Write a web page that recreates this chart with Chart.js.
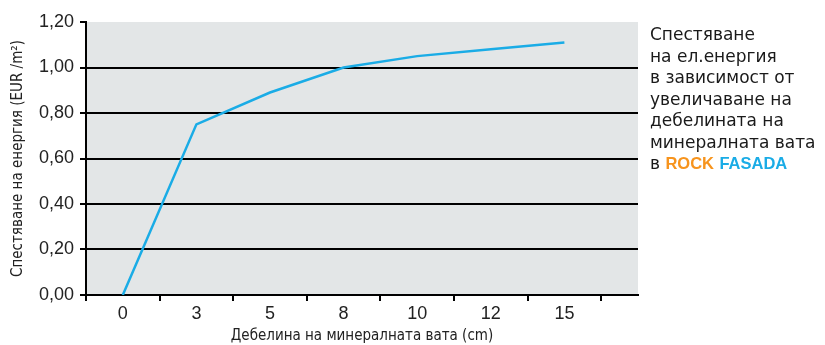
<!DOCTYPE html>
<html>
<head>
<meta charset="utf-8">
<script src="https://cdn.jsdelivr.net/npm/chart.js@4.4.0/dist/chart.umd.min.js"></script>
<style>
  html, body { margin: 0; padding: 0; background: #fff; }
  #wrap { position: relative; width: 825px; height: 345px; }
  #note {
    position: absolute; left: 650px; top: 24px;
    font-family: "DejaVu Sans", sans-serif; font-size: 17px; line-height: 21.5px;
    color: #1a1a1a; white-space: nowrap;
  }
  #note b { font-family: "Liberation Sans", Arial, sans-serif; font-size: 16.5px; }
  #note b.r { color: #f7941d; }
  #note b.f { color: #1aace6; }
</style>
</head>
<body>
<div id="wrap">
  <canvas id="myChart" width="825" height="345"></canvas>
  <div id="note">Спестяване<br>на ел.енергия<br>в зависимост от<br>увеличаване на<br>дебелината на<br>минералната вата<br>в <b class="r">ROCK</b> <b class="f">FASADA</b></div>
</div>
<script>
// thickness of mineral wool (cm) and energy saving (EUR/m2)
const thickness = ['0', '3', '5', '8', '10', '12', '15'];
const saving = [0, 0.75, 0.89, 1.00, 1.05, 1.08, 1.11];
const yTicks = [0, 0.2, 0.4, 0.6, 0.8, 1.0, 1.2];

const ctx = document.getElementById('myChart');
const narrow = '"Liberation Sans Narrow", "DejaVu Sans Condensed", sans-serif';
const plain = '"Liberation Sans", sans-serif';

// grey plot background + tick marks between the categories
const plotBits = {
  id: 'plotBits',
  beforeDraw(chart) {
    const a = chart.chartArea;
    const c = chart.ctx;
    c.save();
    c.fillStyle = '#e3e6e7';
    c.fillRect(a.left, a.top, a.right - a.left, a.bottom - a.top);
    c.restore();
  },
  afterDraw(chart) {
    const x = chart.scales.x;
    const c = chart.ctx;
    c.save();
    c.strokeStyle = '#000';
    c.lineWidth = 2;
    for (let i = 0; i <= thickness.length; i++) {
      const px = Math.round(x.getPixelForValue(i - 0.5));
      c.beginPath();
      c.moveTo(px, x.top);
      c.lineTo(px, x.top + 6);
      c.stroke();
    }
    c.restore();
  }
};

new Chart(ctx, {
  type: 'line',
  data: {
    datasets: [{
      data: saving.map((v, i) => ({ x: i, y: v })),
      borderColor: '#1aace6',
      borderWidth: 2.5,
      pointRadius: 0,
      tension: 0
    }]
  },
  plugins: [plotBits],
  options: {
    responsive: false,
    animation: false,
    layout: { padding: { left: 9, right: 187, top: 22, bottom: 0 } },
    plugins: { legend: { display: false }, tooltip: { enabled: false } },
    scales: {
      x: {
        type: 'linear',
        min: -0.5,
        max: 7,
        afterBuildTicks(s) { s.ticks = thickness.map((_, i) => ({ value: i })); },
        afterFit(s) { s.height = 50; },
        grid: { display: false },
        border: { color: '#000', width: 2 },
        ticks: {
          autoSkip: false,
          maxRotation: 0,
          padding: 0,
          color: '#222',
          font: { family: plain, size: 18 },
          callback: (v) => thickness[v]
        },
        title: {
          display: true,
          text: 'Дебелина на минералната вата (cm)',
          color: '#222',
          font: { family: narrow, size: 15 },
          padding: { top: 0, bottom: 0 }
        }
      },
      y: {
        min: 0,
        max: 1.2,
        afterBuildTicks(s) { s.ticks = yTicks.map(v => ({ value: v })); },
        afterFit(s) { s.width = 77; },
        grid: {
          color: (c) => (c.tick && c.tick.value >= 1.2) ? 'rgba(0,0,0,0)' : '#000',
          tickColor: '#000',
          lineWidth: 2,
          tickLength: 6
        },
        border: { color: '#000', width: 2 },
        ticks: {
          padding: 6,
          color: '#222',
          font: { family: plain, size: 18 },
          callback: (v) => v.toFixed(2).replace('.', ',')
        },
        title: {
          display: true,
          text: 'Спестяване на енергия (EUR /m²)',
          color: '#222',
          font: { family: narrow, size: 15 },
          padding: { top: 0, bottom: 2 }
        }
      }
    }
  }
});
</script>
</body>
</html>
